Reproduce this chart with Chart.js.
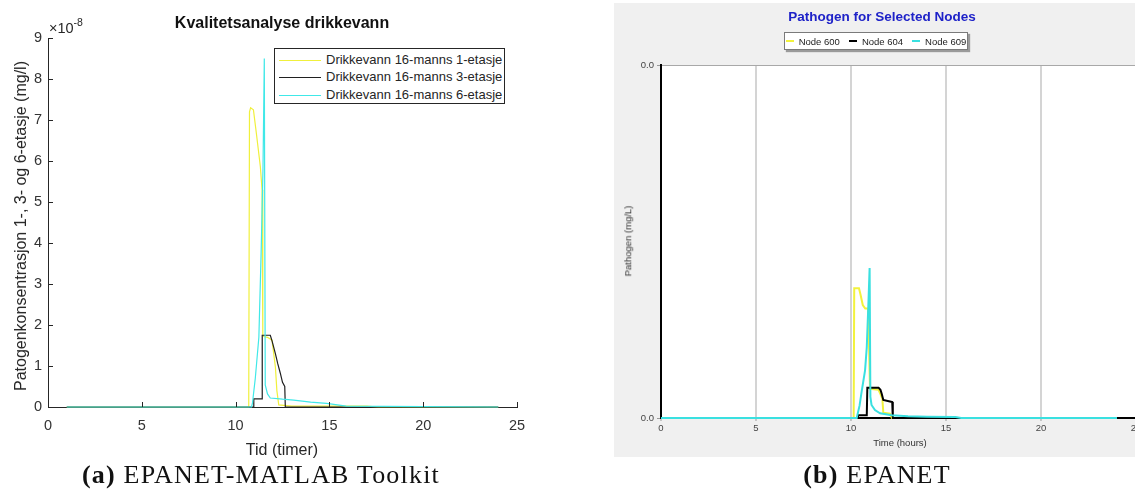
<!DOCTYPE html>
<html>
<head>
<meta charset="utf-8">
<script src="https://cdn.jsdelivr.net/npm/chart.js@4/dist/chart.umd.min.js"></script>
<style>
  html, body { margin: 0; padding: 0; background: #fff; }
  body { width: 1135px; height: 495px; overflow: hidden; position: relative; font-family: "Liberation Sans", Arial, sans-serif; }
  .abs { position: absolute; white-space: nowrap; line-height: 1; }
  #leftWrap { position: absolute; left: 0; top: 0; width: 560px; height: 460px; }
  #rightPanel { position: absolute; left: 614px; top: 3px; width: 522px; height: 454px; background: #f0f0f0; }
  .mlText { color: #262626; }
  .legRow { position: absolute; left: 0; height: 14px; }
  .legLine { position: absolute; left: 4px; width: 42px; height: 1.3px; }
  .legLabel { position: absolute; left: 51px; top: -7px; font-size: 13px; color: #262626; white-space: nowrap; }
  .caption { font-family: "Liberation Serif", serif; font-size: 26px; letter-spacing: 1.2px; color: #111; transform: translateX(-50%); }
  .epLegend { position: absolute; left: 784px; top: 32px; width: 184px; height: 18px; box-sizing: border-box;
              background: #fff; border: 1px solid #7a7a7a; box-shadow: 2px 2px 1px #9a9a9a;
              display: flex; align-items: center; justify-content: center; gap: 9px;
              font-size: 9.5px; color: #222; white-space: nowrap; }
  .epItem { display: flex; align-items: center; gap: 5px; white-space: nowrap; }
  .epMark { width: 8px; height: 2px; flex: none; }
</style>
</head>
<body>

<!-- (a) EPANET-MATLAB Toolkit -->
<div id="leftWrap"><canvas id="left" width="560" height="460"></canvas></div>
<div class="abs mlText" style="left:282px; top:15px; font-size:16px; font-weight:bold; transform:translateX(-50%); color:#111">Kvalitetsanalyse drikkevann</div>
<div class="abs mlText" style="left:49px; top:21px; font-size:14.5px">×10<span style="font-size:10.5px; position:relative; top:-7px">-8</span></div>
<div class="abs mlText" style="left:21px; top:226px; font-size:16px; transform:translate(-50%,-50%) rotate(-90deg)">Patogenkonsentrasjon 1-, 3- og 6-etasje (mg/l)</div>
<div class="abs mlText" style="left:282px; top:442px; font-size:16px; transform:translateX(-50%)">Tid (timer)</div>
<div class="abs" style="left:274px; top:48px; width:231px; height:56px; box-sizing:border-box; border:1px solid #262626; background:#fff">
  <div class="legRow" style="top:11px"><div class="legLine" style="background:#f0f03c"></div><div class="legLabel">Drikkevann 16-manns 1-etasje</div></div>
  <div class="legRow" style="top:28px"><div class="legLine" style="background:#202020"></div><div class="legLabel">Drikkevann 16-manns 3-etasje</div></div>
  <div class="legRow" style="top:46px"><div class="legLine" style="background:#40e8e8"></div><div class="legLabel">Drikkevann 16-manns 6-etasje</div></div>
</div>
<div class="abs caption" style="left:261px; top:462px"><b>(a)</b> EPANET-MATLAB Toolkit</div>

<!-- (b) EPANET -->
<div id="rightPanel"><canvas id="right" width="522" height="454"></canvas></div>
<div class="abs" style="left:882px; top:10px; font-size:13.5px; font-weight:bold; color:#1e22c8; transform:translateX(-50%)">Pathogen for Selected Nodes</div>
<div class="epLegend">
  <div class="epItem"><div class="epMark" style="background:#f2f23c"></div><span>Node 600</span></div>
  <div class="epItem"><div class="epMark" style="background:#000"></div><span>Node 604</span></div>
  <div class="epItem"><div class="epMark" style="background:#3ae0e0"></div><span>Node 609</span></div>
</div>
<div class="abs" style="left:628px; top:241px; font-size:9.5px; color:#333; transform:translate(-50%,-50%) rotate(-90deg)">Pathogen (mg/L)</div>
<div class="abs" style="left:900px; top:438px; font-size:9.5px; color:#333; transform:translateX(-50%)">Time (hours)</div>
<div class="abs caption" style="left:877px; top:462px"><b>(b)</b> EPANET</div>

<script>
// Konsentrasjon i enheter av 1e-8 mg/l, tid i timer

// EPANET-MATLAB Toolkit
const xTicksLeft = [0, 5, 10, 15, 20, 25];
const yTicksLeft = [0, 1, 2, 3, 4, 5, 6, 7, 8, 9];

const tidEtasje1 = [1, 10.7, 10.74, 10.8, 10.95, 11.1, 11.32, 11.41, 11.45, 11.5, 11.7, 11.94, 12.12, 12.2, 12.3, 13.0, 17.0, 17.6, 24];
const konsEtasje1 = [0, 0, 7.2, 7.3, 7.25, 6.7, 5.86, 5.3, 1.75, 1.72, 1.7, 1.63, 0.98, 0.4, 0.05, 0.02, 0.02, 0, 0];

const tidEtasje3 = [1, 10.95, 10.97, 11.41, 11.42, 11.85, 11.95, 12.12, 12.25, 12.38, 12.5, 12.62, 12.65, 24];
const konsEtasje3 = [0, 0, 0.2, 0.2, 1.75, 1.75, 1.6, 1.3, 1.05, 0.83, 0.6, 0.5, 0, 0];

const tidEtasje6 = [1, 10.85, 10.9, 11.05, 11.24, 11.36, 11.46, 11.53, 11.58, 11.7, 11.85, 12.5, 13.1, 14.0, 14.85, 15.9, 24];
const konsEtasje6 = [0, 0, 0.1, 0.7, 1.7, 3.75, 5.8, 8.5, 0.54, 0.32, 0.22, 0.19, 0.17, 0.12, 0.09, 0.02, 0];

// EPANET
const xTicksRight = [0, 5, 10, 15, 20, 25];
const yTicksRight = [0, 20];

const node600Time = [0, 10.14, 10.17, 10.42, 10.5, 10.62, 10.75, 10.9, 10.95, 11.0, 11.45, 11.55, 11.65, 11.7, 12.05, 12.15, 24];
const node600Value = [0, 0, 7.35, 7.35, 7.0, 6.4, 6.2, 6.2, 4.0, 1.65, 1.6, 1.35, 1.1, 0.3, 0.25, 0, 0];

const node604Time = [0, 10.35, 10.38, 10.83, 10.86, 11.45, 11.55, 11.62, 11.7, 12.05, 12.17, 12.2, 24];
const node604Value = [0, 0, 0.15, 0.15, 1.72, 1.72, 1.6, 1.36, 1.02, 0.93, 0.9, 0, 0];

const node609Time = [0, 10.3, 10.45, 10.56, 10.74, 10.83, 10.91, 10.98, 11.02, 11.08, 11.26, 11.53, 12.14, 13.0, 14.0, 15.5, 15.8, 24];
const node609Value = [0, 0, 0.7, 1.5, 2.7, 4.0, 6.3, 8.5, 1.2, 0.74, 0.45, 0.27, 0.15, 0.1, 0.07, 0.05, 0, 0];

const pts = (t, v) => t.map((x, i) => ({ x, y: v[i] }));
const fixTicks = list => scale => { scale.ticks = list.map(value => ({ value })); };

// MATLAB-style tick marks pointing into the axes
const inwardTicks = {
  id: 'inwardTicks',
  afterDatasetsDraw(chart) {
    const { ctx, chartArea, scales: { x, y } } = chart;
    ctx.save();
    ctx.strokeStyle = '#262626';
    ctx.lineWidth = 1;
    ctx.beginPath();
    x.ticks.forEach(t => {
      const px = Math.round(x.getPixelForValue(t.value)) + 0.5;
      ctx.moveTo(px, chartArea.bottom);
      ctx.lineTo(px, chartArea.bottom - 5);
    });
    y.ticks.forEach(t => {
      const py = Math.round(y.getPixelForValue(t.value)) + 0.5;
      ctx.moveTo(chartArea.left, py);
      ctx.lineTo(chartArea.left + 5, py);
    });
    ctx.stroke();
    ctx.restore();
  }
};

const plotBackground = {
  id: 'plotBackground',
  beforeDraw(chart) {
    const { ctx, chartArea: a } = chart;
    ctx.save();
    ctx.fillStyle = '#fff';
    ctx.fillRect(a.left, a.top, a.right - a.left, a.bottom - a.top);
    ctx.restore();
  }
};

const mlFont = { family: '"Liberation Sans", Arial, sans-serif', size: 14.5 };

new Chart(document.getElementById('left'), {
  type: 'line',
  data: {
    datasets: [
      { label: 'Drikkevann 16-manns 6-etasje', data: pts(tidEtasje6, konsEtasje6), borderColor: '#40e8e8', order: 0 },
      { label: 'Drikkevann 16-manns 3-etasje', data: pts(tidEtasje3, konsEtasje3), borderColor: '#202020', order: 1 },
      { label: 'Drikkevann 16-manns 1-etasje', data: pts(tidEtasje1, konsEtasje1), borderColor: '#f0f03c', order: 2 }
    ]
  },
  options: {
    responsive: false,
    animation: false,
    layout: { padding: { top: 38, right: 43, left: 0, bottom: 0 } },
    elements: { point: { radius: 0 }, line: { borderWidth: 1.2, tension: 0 } },
    datasets: { line: { clip: 5 } },
    plugins: { legend: { display: false }, tooltip: { enabled: false } },
    scales: {
      x: {
        type: 'linear', min: 0, max: 25,
        afterBuildTicks: fixTicks(xTicksLeft),
        afterFit: s => { s.height = 53; s.paddingLeft = 0; s.paddingRight = 0; },
        grid: { display: false, drawTicks: false },
        border: { display: true, color: '#262626', width: 1 },
        ticks: { font: mlFont, color: '#333', padding: 10, maxRotation: 0 }
      },
      y: {
        type: 'linear', min: 0, max: 9,
        afterBuildTicks: fixTicks(yTicksLeft),
        afterFit: s => { s.width = 48; s.paddingTop = 0; s.paddingBottom = 0; },
        grid: { display: false, drawTicks: false },
        border: { display: true, color: '#262626', width: 1 },
        ticks: { font: mlFont, color: '#333', padding: 6 }
      }
    }
  },
  plugins: [inwardTicks]
});

const epFont = { family: '"Liberation Sans", Arial, sans-serif', size: 9.5 };

new Chart(document.getElementById('right'), {
  type: 'line',
  data: {
    datasets: [
      { label: 'Node 609', data: pts(node609Time, node609Value), borderColor: '#3ae0e0', order: 0 },
      { label: 'Node 604', data: pts(node604Time, node604Value), borderColor: '#000000', order: 1 },
      { label: 'Node 600', data: pts(node600Time, node600Value), borderColor: '#f2f23c', order: 2 }
    ]
  },
  options: {
    responsive: false,
    animation: false,
    layout: { padding: { top: 62, right: 0, left: 0, bottom: 0 } },
    elements: { point: { radius: 0 }, line: { borderWidth: 2, tension: 0 } },
    datasets: { line: { clip: 5 } },
    plugins: { legend: { display: false }, tooltip: { enabled: false } },
    scales: {
      x: {
        type: 'linear', min: 0, max: 25,
        afterBuildTicks: fixTicks(xTicksRight),
        afterFit: s => { s.height = 39; s.paddingLeft = 0; s.paddingRight = 0; },
        grid: {
          color: c => (c.tick && (c.tick.value === 0 || c.tick.value === 25)) ? 'rgba(0,0,0,0)' : '#d4d4d4',
          lineWidth: 2, drawTicks: true, tickLength: 3, tickColor: '#999', tickWidth: 1
        },
        border: { display: true, color: '#000', width: 2 },
        ticks: { font: epFont, color: '#444', padding: 2, maxRotation: 0 }
      },
      y: {
        type: 'linear', min: 0, max: 20,
        afterBuildTicks: fixTicks(yTicksRight),
        afterFit: s => { s.width = 47; s.paddingTop = 0; s.paddingBottom = 0; },
        grid: { color: '#a8a8a8', lineWidth: 1, drawTicks: true, tickLength: 4, tickColor: '#999', tickWidth: 1 },
        border: { display: true, color: '#000', width: 2 },
        ticks: { font: epFont, color: '#444', padding: 3, callback: v => (v * 1e-8).toFixed(1) }
      }
    }
  },
  plugins: [plotBackground]
});
</script>
</body>
</html>
